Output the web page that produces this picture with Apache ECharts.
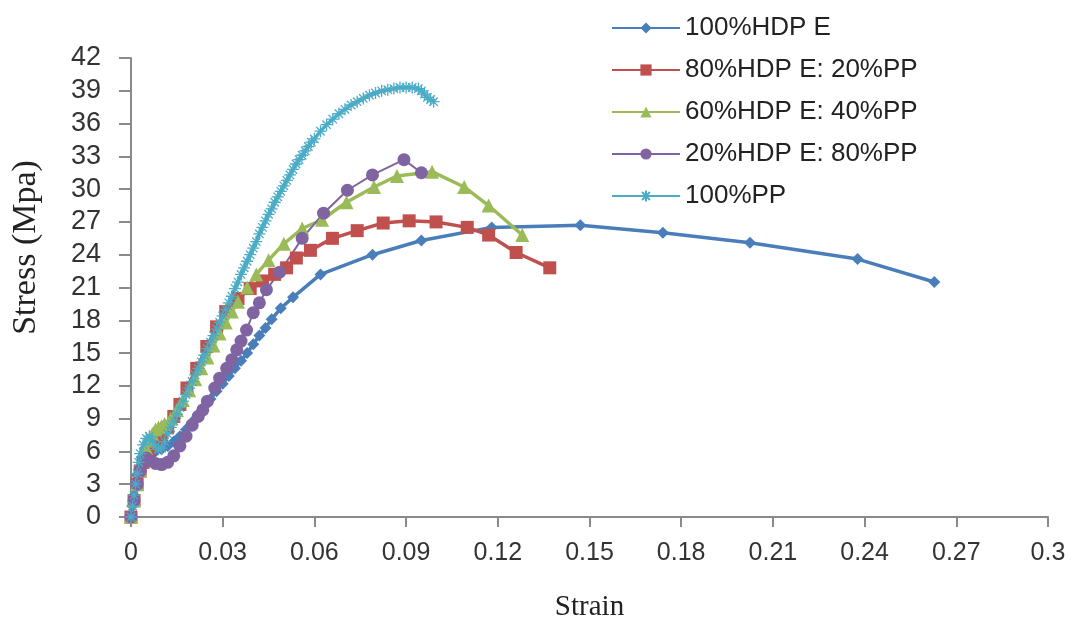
<!DOCTYPE html>
<html>
<head>
<meta charset="utf-8">
<script src="https://cdn.jsdelivr.net/npm/echarts@6/dist/echarts.min.js"></script>
<style>html,body{margin:0;padding:0;background:#fff}#c{width:1072px;height:631px}</style>
</head>
<body>
<div id="c"></div>
<script>
// ---- data ----
var seriesNames = ['100%HDP E', '80%HDP E: 20%PP', '60%HDP E: 40%PP', '20%HDP E: 80%PP', '100%PP'];

var hdpeStrain = [0,0.0005,0.001,0.0015,0.002,0.003,0.004,0.005,0.006,0.008,0.010,0.012,0.014,0.016,0.018,0.020,0.022,0.024,0.026,0.028,0.030,0.032,0.034,0.036,0.038,0.040,0.042,0.044,0.046,0.049,0.053,0.062,0.079,0.095,0.118,0.147,0.174,0.2025,0.2377,0.2628];
var hdpeStress = [0,1.0,2.0,3.0,3.8,4.6,5.2,5.6,5.8,6.0,6.2,6.5,6.9,7.4,8.0,8.7,9.4,10.1,10.8,11.5,12.2,12.9,13.6,14.3,15.0,15.8,16.6,17.3,18.1,19.1,20.1,22.2,24.0,25.3,26.5,26.7,26.0,25.1,23.6,21.5];

var b8020Strain = [0,0.001,0.002,0.003,0.004,0.006,0.008,0.010,0.012,0.014,0.016,0.0183,0.0215,0.0248,0.028,0.031,0.035,0.039,0.043,0.047,0.0509,0.0541,0.0587,0.0659,0.074,0.0825,0.091,0.0998,0.110,0.117,0.126,0.137];
var b8020Stress = [0,1.5,3.0,4.2,5.0,6.0,6.6,7.3,8.2,9.2,10.3,11.8,13.6,15.6,17.4,18.8,20.0,20.9,21.6,22.2,22.8,23.7,24.4,25.5,26.2,26.9,27.1,27.0,26.5,25.8,24.2,22.8];

var b6040Strain = [0,0.001,0.002,0.003,0.004,0.005,0.006,0.007,0.008,0.009,0.010,0.011,0.013,0.015,0.017,0.019,0.021,0.023,0.025,0.027,0.029,0.031,0.033,0.035,0.038,0.041,0.045,0.050,0.056,0.0625,0.0705,0.0795,0.087,0.0985,0.109,0.117,0.128];
var b6040Stress = [0,1.5,3.0,4.3,5.4,6.3,7.0,7.6,8.0,8.2,8.3,8.5,9.0,9.8,10.7,11.6,12.6,13.6,14.6,15.7,16.8,17.8,18.8,19.7,21.0,22.2,23.5,25.0,26.4,27.2,28.8,30.2,31.2,31.6,30.2,28.5,25.8];

var b2080Strain = [0,0.001,0.002,0.003,0.004,0.005,0.006,0.008,0.010,0.012,0.014,0.016,0.018,0.020,0.022,0.0235,0.025,0.0274,0.029,0.0313,0.033,0.0346,0.036,0.0378,0.040,0.042,0.0443,0.0486,0.056,0.063,0.0708,0.079,0.0893,0.095];
var b2080Stress = [0,1.5,3.0,4.2,5.0,5.4,5.2,4.9,4.8,5.0,5.6,6.5,7.4,8.4,9.2,9.8,10.6,11.8,12.7,13.6,14.4,15.3,16.1,17.1,18.7,19.6,20.8,22.4,25.5,27.8,29.9,31.3,32.7,31.5];

var ppStrain = [0,0.0005,0.001,0.0015,0.002,0.0025,0.003,0.004,0.005,0.006,0.007,0.008,0.009,0.010,0.011,0.012,0.013,0.014,0.015,0.016,0.017,0.018,0.019,0.020,0.021,0.022,0.023,0.024,0.025,0.026,0.027,0.028,0.029,0.030,0.031,0.032,0.033,0.034,0.035,0.036,0.037,0.038,0.039,0.040,0.041,0.042,0.043,0.044,0.045,0.046,0.047,0.048,0.049,0.050,0.051,0.052,0.053,0.054,0.055,0.056,0.057,0.058,0.059,0.060,0.062,0.064,0.066,0.068,0.070,0.072,0.074,0.076,0.078,0.080,0.082,0.084,0.086,0.088,0.090,0.092,0.094,0.095,0.096,0.097,0.098,0.099];
var ppStress = [0,1.0,2.0,3.0,4.0,5.0,5.8,6.6,7.2,7.4,7.0,6.5,6.2,6.3,6.9,7.6,8.2,8.8,9.4,10.0,10.6,11.2,11.8,12.4,13.0,13.6,14.2,14.8,15.4,16.0,16.6,17.2,17.8,18.4,19.0,19.6,20.2,20.9,21.5,22.2,22.8,23.4,24.0,24.6,25.2,25.9,26.5,27.1,27.7,28.2,28.8,29.3,29.8,30.3,30.8,31.3,31.8,32.3,32.7,33.1,33.5,33.9,34.3,34.6,35.3,35.9,36.4,36.9,37.3,37.7,38.0,38.3,38.6,38.8,39.0,39.1,39.2,39.3,39.3,39.3,39.2,39.0,38.7,38.4,38.2,38.0];

var xTicks = {min: 0, max: 0.3, interval: 0.03};
var yTicks = {min: 0, max: 42, interval: 3};

function pairs(xs, ys) { return xs.map(function (x, i) { return [x, ys[i]]; }); }

var colors = ['#4A7EBB', '#C0504D', '#9BBB59', '#8064A2', '#4BACC6'];
var asterisk = 'path://M5,0L5,10M0,5L10,5M1.5,1.5L8.5,8.5M8.5,1.5L1.5,8.5';

function mk(i, xs, ys, symbol, size, lw) {
  return {
    name: seriesNames[i], type: 'line', data: pairs(xs, ys),
    symbol: symbol, symbolSize: size, showSymbol: true, smooth: false,
    lineStyle: {color: colors[i], width: lw},
    itemStyle: {color: colors[i], borderColor: colors[i], borderWidth: symbol === asterisk ? 1.3 : 0},
    emphasis: {disabled: true}, animation: false
  };
}

var chart = echarts.init(document.getElementById('c'), null, {renderer: 'canvas'});
chart.setOption({
  backgroundColor: '#ffffff',
  animation: false,
  color: colors,
  grid: {left: 131, right: 24, top: 58, bottom: 114, containLabel: false},
  legend: {
    orient: 'vertical', left: 606, top: 10,
    itemWidth: 68, itemHeight: 14, itemGap: 16,
    textStyle: {fontFamily: 'Liberation Sans, Arial, sans-serif', fontSize: 26, color: '#222', lineHeight: 26},
    data: seriesNames
  },
  xAxis: {
    type: 'value', min: xTicks.min, max: xTicks.max, interval: xTicks.interval,
    name: 'Strain', nameLocation: 'middle', nameGap: 76,
    nameTextStyle: {fontFamily: 'Liberation Serif, Times New Roman, serif', fontSize: 29, color: '#222'},
    axisLine: {show: true, onZero: false, lineStyle: {color: '#8a8a8a', width: 2}},
    axisTick: {show: true, length: 10, lineStyle: {color: '#8a8a8a', width: 2}},
    axisLabel: {margin: 24, fontFamily: 'Liberation Sans, Arial, sans-serif', fontSize: 25, color: '#333',
      formatter: function (v) { return String(Math.round(v * 100) / 100); }},
    splitLine: {show: false}
  },
  yAxis: {
    type: 'value', min: yTicks.min, max: yTicks.max, interval: yTicks.interval,
    name: 'Stress (Mpa)', nameLocation: 'middle', nameGap: 88,
    nameTextStyle: {fontFamily: 'Liberation Serif, Times New Roman, serif', fontSize: 34, color: '#222', padding: [0,0,0,80]},
    axisLine: {show: true, lineStyle: {color: '#8a8a8a', width: 2}},
    axisTick: {show: true, length: 12, lineStyle: {color: '#8a8a8a', width: 2}},
    axisLabel: {margin: 30, fontFamily: 'Liberation Sans, Arial, sans-serif', fontSize: 27, color: '#333'},
    splitLine: {show: false}
  },
  series: [
    mk(0, hdpeStrain, hdpeStress, 'diamond', 12, 3.5),
    mk(1, b8020Strain, b8020Stress, 'rect', 13, 3.5),
    mk(2, b6040Strain, b6040Stress, 'triangle', 14, 3.5),
    mk(3, b2080Strain, b2080Stress, 'circle', 13, 2),
    mk(4, ppStrain, ppStress, asterisk, 12, 3.5)
  ]
});
</script>
</body>
</html>
